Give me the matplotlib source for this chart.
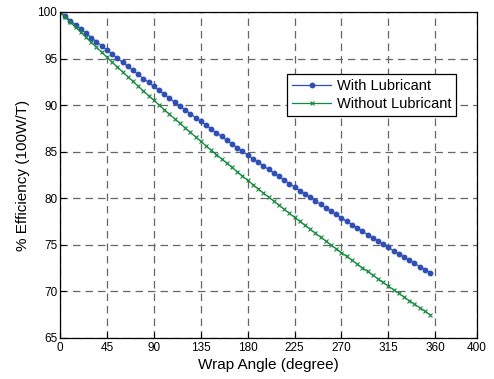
import matplotlib
matplotlib.use("Agg")
import matplotlib.pyplot as plt

plt.rcParams['font.family'] = ['Liberation Sans', 'DejaVu Sans']

# wrap angle in degrees, 5 degree steps
angle = [0, 5, 10, 15, 20, 25, 30, 35, 40, 45, 50, 55, 60, 65, 70, 75, 80, 85, 90, 95,
         100, 105, 110, 115, 120, 125, 130, 135, 140, 145, 150, 155, 160, 165, 170, 175,
         180, 185, 190, 195, 200, 205, 210, 215, 220, 225, 230, 235, 240, 245, 250, 255,
         260, 265, 270, 275, 280, 285, 290, 295, 300, 305, 310, 315, 320, 325, 330, 335,
         340, 345, 350, 355]

with_lub = [100.00, 99.54, 99.08, 98.62, 98.17, 97.71, 97.26, 96.81, 96.37, 95.92,
            95.48, 95.04, 94.60, 94.16, 93.73, 93.29, 92.86, 92.44, 92.01, 91.58,
            91.16, 90.74, 90.32, 89.90, 89.49, 89.08, 88.67, 88.26, 87.85, 87.44,
            87.04, 86.64, 86.24, 85.84, 85.44, 85.05, 84.66, 84.27, 83.88, 83.49,
            83.10, 82.72, 82.34, 81.96, 81.58, 81.21, 80.83, 80.46, 80.09, 79.72,
            79.35, 78.98, 78.62, 78.26, 77.89, 77.53, 77.18, 76.82, 76.47, 76.11,
            75.76, 75.41, 75.07, 74.72, 74.37, 74.03, 73.69, 73.35, 73.01, 72.67,
            72.34, 72.00]

without_lub = [100.00, 99.45, 98.90, 98.35, 97.81, 97.27, 96.73, 96.20, 95.67, 95.14,
               94.61, 94.09, 93.57, 93.06, 92.54, 92.03, 91.52, 91.02, 90.52, 90.02,
               89.52, 89.03, 88.54, 88.05, 87.56, 87.08, 86.60, 86.12, 85.64, 85.17,
               84.70, 84.23, 83.77, 83.31, 82.85, 82.39, 81.93, 81.48, 81.03, 80.58,
               80.14, 79.70, 79.26, 78.82, 78.39, 77.95, 77.52, 77.09, 76.67, 76.25,
               75.83, 75.41, 74.99, 74.58, 74.17, 73.76, 73.35, 72.95, 72.54, 72.14,
               71.75, 71.35, 70.96, 70.57, 70.18, 69.79, 69.40, 69.02, 68.64, 68.26,
               67.88, 67.50]

xticks = [0, 45, 90, 135, 180, 225, 270, 315, 360, 400]
yticks = [65, 70, 75, 80, 85, 90, 95, 100]

fig = plt.figure(figsize=(4.94, 3.79), dpi=100)
ax = fig.add_axes([60 / 494, 41 / 379, 417 / 494, 326 / 379])

ax.plot(angle, with_lub, color='#2f4fb5', marker='o', markersize=3.2, linewidth=0.9,
        label='With Lubricant')
ax.plot(angle, without_lub, color='#138a3c', marker='x', markersize=3.2, linewidth=0.9,
        markeredgewidth=0.8, label='Without Lubricant')

ax.set_xlim(0, 400)
ax.set_ylim(65, 100)
ax.set_xticks(xticks)
ax.set_yticks(yticks)
ax.tick_params(direction='in', length=4, labelsize=8.5, width=0.8)
ax.tick_params(axis='x', pad=3)
ax.tick_params(axis='y', pad=2)
for s in ax.spines.values():
    s.set_linewidth(0.9)

ax.grid(True, linestyle=(0, (6, 4)), color='#666666', linewidth=0.9)

ax.set_xlabel('Wrap Angle (degree)', fontsize=11, labelpad=3)
ax.set_ylabel('% Efficiency (100W/T)', fontsize=11, labelpad=5)

leg = ax.legend(loc='upper left', bbox_to_anchor=(227 / 417, 1 - 62 / 326), fontsize=10.5,
                frameon=True, fancybox=False, edgecolor='black', framealpha=1,
                borderaxespad=0, handlelength=2.7, handletextpad=0.35,
                borderpad=0.35, labelspacing=0.25)
leg.get_frame().set_linewidth(0.9)

fig.savefig('out.png', dpi=100)
